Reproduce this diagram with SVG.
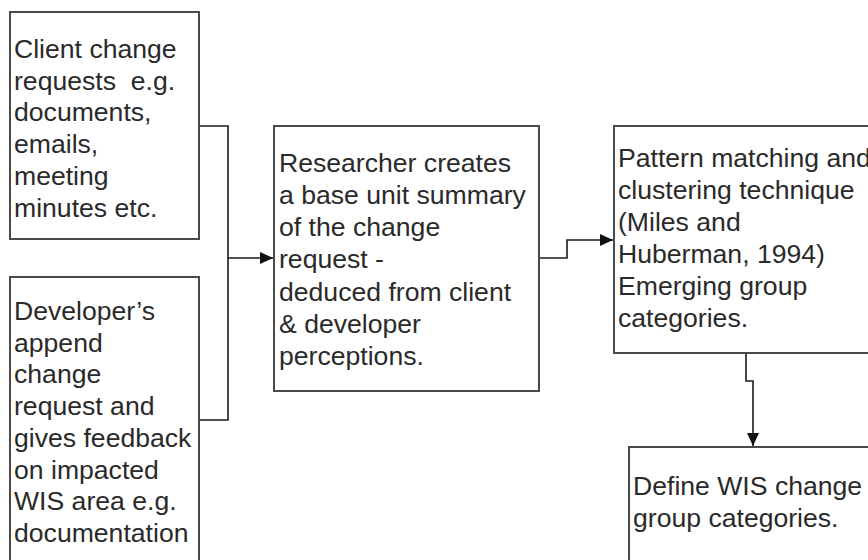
<svg xmlns="http://www.w3.org/2000/svg" width="868" height="560" viewBox="0 0 868 560">
  <style>
    .box { fill: #ffffff; stroke: #4a4a4a; stroke-width: 2; }
    .lbl { font-family: "Liberation Sans", Arial, sans-serif; font-size: 26.6px; fill: #2a2a2a; }
    .wire { fill: none; stroke: #1a1a1a; stroke-width: 1.6; }
  </style>
  <defs>
    <marker id="arrow" markerWidth="13" markerHeight="12" refX="13" refY="6" orient="auto" markerUnits="userSpaceOnUse">
      <path d="M0,0 L13,6 L0,12 Z" fill="#111111"/>
    </marker>
  </defs>
  <rect width="868" height="560" fill="#ffffff"/>

  <g id="connectors">
    <!-- both inputs merge into one line feeding the researcher step -->
    <path class="wire" d="M199,126 H228 V420 H199"/>
    <path class="wire" d="M228,258 H273" marker-end="url(#arrow)"/>
    <!-- summary to pattern matching -->
    <path class="wire" d="M539,258 H567 V240 H613" marker-end="url(#arrow)"/>
    <!-- pattern matching to category definition -->
    <path class="wire" d="M746,353 V381 H753 V446" marker-end="url(#arrow)"/>
  </g>

  <g id="client-requests">
    <rect class="box" x="10" y="12" width="189" height="227"/>
    <text class="lbl">
      <tspan x="14" y="57.5">Client change</tspan>
      <tspan x="14" y="89.5">requests&#160; e.g.</tspan>
      <tspan x="14" y="121.3">documents,</tspan>
      <tspan x="14" y="153.1">emails,</tspan>
      <tspan x="14" y="184.9">meeting</tspan>
      <tspan x="14" y="216.7">minutes etc.</tspan>
    </text>
  </g>

  <g id="developer-feedback">
    <rect class="box" x="10" y="277" width="189" height="300"/>
    <text class="lbl">
      <tspan x="14" y="320">Developer’s</tspan>
      <tspan x="14" y="351.7">append</tspan>
      <tspan x="14" y="383.4">change</tspan>
      <tspan x="14" y="415.1">request and</tspan>
      <tspan x="14" y="446.8">gives feedback</tspan>
      <tspan x="14" y="478.5">on impacted</tspan>
      <tspan x="14" y="510.2">WIS area e.g.</tspan>
      <tspan x="14" y="541.9">documentation</tspan>
    </text>
  </g>

  <g id="researcher-summary">
    <rect class="box" x="274" y="126" width="265" height="265"/>
    <text class="lbl">
      <tspan x="279" y="171.7">Researcher creates</tspan>
      <tspan x="279" y="203.9">a base unit summary</tspan>
      <tspan x="279" y="236.1">of the change</tspan>
      <tspan x="279" y="268.3">request -</tspan>
      <tspan x="279" y="300.5">deduced from client</tspan>
      <tspan x="279" y="332.7">&amp; developer</tspan>
      <tspan x="279" y="364.9">perceptions.</tspan>
    </text>
  </g>

  <g id="pattern-matching">
    <rect class="box" x="614" y="126" width="270" height="227"/>
    <text class="lbl">
      <tspan x="618" y="166.7">Pattern matching and</tspan>
      <tspan x="618" y="198.7">clustering technique</tspan>
      <tspan x="618" y="230.7">(Miles and</tspan>
      <tspan x="618" y="262.7">Huberman, 1994)</tspan>
      <tspan x="618" y="294.7">Emerging group</tspan>
      <tspan x="618" y="326.7">categories.</tspan>
    </text>
  </g>

  <g id="define-categories">
    <rect class="box" x="629" y="447" width="260" height="130"/>
    <text class="lbl">
      <tspan x="633" y="494.7">Define WIS change</tspan>
      <tspan x="633" y="526.7">group categories.</tspan>
    </text>
  </g>
</svg>
